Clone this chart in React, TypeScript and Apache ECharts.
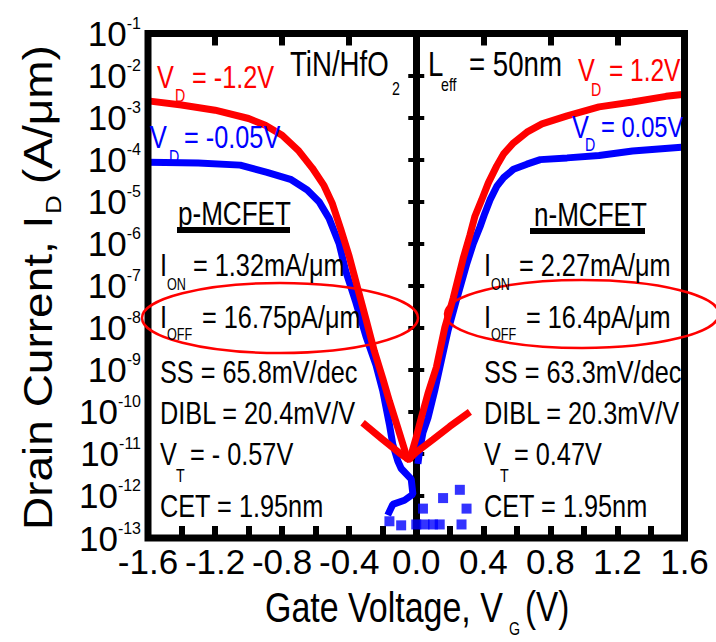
import React, { useEffect, useRef } from "react";
import * as echarts from "echarts";

// ---- data ----
const xTickMin = -1.6;
const xTickMax = 1.6;
const yMin = 1e-13;
const yMax = 1e-1;

// p-MCFET, VD = -1.2 V (red)
const pRedVg = [-1.6, -1.4, -1.2, -1.0, -0.9, -0.8, -0.7, -0.62, -0.55, -0.5, -0.45, -0.4, -0.35, -0.3, -0.25, -0.2, -0.16, -0.11, -0.05, 0.0, 0.1, 0.2, 0.32];
const pRedId = [2.5e-3, 2.0e-3, 1.5e-3, 9.5e-4, 6.6e-4, 3.8e-4, 1.6e-4, 6.3e-5, 2.4e-5, 8.9e-6, 2.2e-6, 5.0e-7, 8.9e-8, 1.6e-8, 2.8e-9, 6.3e-10, 1.8e-10, 4.2e-11, 7.1e-12, 1.1e-11, 2.2e-11, 4.5e-11, 1.0e-10];

// p-MCFET, VD = -0.05 V (blue)
const pBlueVg = [-1.6, -1.3, -1.05, -0.89, -0.75, -0.65, -0.58, -0.52, -0.46, -0.42, -0.36, -0.3, -0.24, -0.2, -0.16, -0.14, -0.11, -0.09, -0.03, -0.02, -0.07, -0.14, -0.17];
const pBlueId = [8.7e-5, 8.3e-5, 7.4e-5, 5.0e-5, 3.4e-5, 1.9e-5, 1.0e-5, 4.0e-6, 1.0e-6, 2.2e-7, 4.0e-8, 6.3e-9, 1.3e-9, 3.2e-10, 5.0e-11, 1.7e-11, 6.8e-12, 4.5e-12, 2.5e-12, 1.1e-12, 7.9e-13, 6.3e-13, 3.5e-13];

// n-MCFET, VD = 1.2 V (red)
const nRedVg = [-0.32, -0.2, -0.1, -0.04, 0.0, 0.03, 0.07, 0.12, 0.17, 0.22, 0.28, 0.32, 0.35, 0.39, 0.43, 0.48, 0.52, 0.58, 0.66, 0.75, 0.9, 1.09, 1.29, 1.49, 1.6];
const nRedId = [5.5e-11, 2.2e-11, 1.05e-11, 7.1e-12, 2.5e-11, 7.2e-11, 2.75e-10, 1.15e-9, 1.0e-8, 5.0e-8, 4.5e-7, 1.6e-6, 4.5e-6, 1.1e-5, 2.8e-5, 7.1e-5, 1.35e-4, 2.5e-4, 4.5e-4, 7.1e-4, 1.1e-3, 1.8e-3, 2.35e-3, 3.2e-3, 3.6e-3];

// n-MCFET, VD = 0.05 V (blue)
const nBlueVg = [0.01, 0.02, 0.04, 0.07, 0.11, 0.15, 0.19, 0.24, 0.3, 0.34, 0.38, 0.41, 0.44, 0.48, 0.52, 0.58, 0.66, 0.74, 0.9, 1.09, 1.29, 1.6];
const nBlueId = [5.8e-12, 1.2e-11, 3.2e-11, 7.2e-11, 3.2e-10, 1.7e-9, 8.7e-9, 4.6e-8, 3.2e-7, 1.0e-6, 2.5e-6, 5.4e-6, 1.1e-5, 2.3e-5, 3.7e-5, 5.9e-5, 7.8e-5, 1.0e-4, 1.1e-4, 1.26e-4, 1.6e-4, 2.0e-4];

// noise-floor points of the low-VD curves (blue squares)
const noiseVg = [-0.16, -0.09, 0.04, 0.0, 0.05, 0.1, 0.14, 0.16, 0.26, 0.3, 0.27];
const noiseId = [2.5e-13, 2.0e-13, 5.0e-13, 2.1e-13, 2.1e-13, 2.1e-13, 2.1e-13, 8.9e-13, 1.4e-12, 5.0e-13, 2.1e-13];

const pParams = ["= 1.32mA/μm", "= 16.75pA/μm", "SS = 65.8mV/dec", "DIBL = 20.4mV/V", "= - 0.57V", "CET = 1.95nm"];
const nParams = ["= 2.27mA/μm", "= 16.4pA/μm", "SS = 63.3mV/dec", "DIBL = 20.3mV/V", "= 0.47V", "CET = 1.95nm"];

const FR = '"Liberation Sans", Arial, sans-serif';
const RED = "#ff0000";
const BLUE = "#0000ff";
const SQ = 0.79; // horizontal squeeze of the reference's narrow lettering

const zip = (xs: number[], ys: number[]) => xs.map((x, i) => [x, ys[i]]);

function txt(text: string, x: number, y: number, size: number, color = "#000") {
  return {
    type: "text",
    x,
    y,
    z: 50,
    scaleX: SQ,
    style: { text, fill: color, fontSize: size, fontFamily: FR, align: "left", verticalAlign: "middle" },
  };
}

export default function App() {
  const ref = useRef<HTMLDivElement>(null);
  useEffect(() => {
    if (!ref.current) return;
    const chart = echarts.init(ref.current, null, { renderer: "svg" });

    const graphic: any[] = [
      // top annotations
      txt("V", 157, 77, 32, RED),
      txt("D", 175, 95, 18, RED),
      txt("= -1.2V", 192, 77, 32, RED),
      txt("V", 150, 137, 32, BLUE),
      txt("D", 169, 156, 18, BLUE),
      txt("= -0.05V", 184, 137, 32, BLUE),
      txt("TiN/HfO", 290, 64, 35),
      txt("2", 392, 88, 18),
      txt("L", 428, 64, 35),
      txt("eff", 441, 84, 18),
      txt("= 50nm", 469, 64, 35),
      txt("V", 578, 70, 32, RED),
      txt("D", 591, 89, 18, RED),
      txt("= 1.2V", 609, 70, 31, RED),
      txt("V", 572, 127, 32, BLUE),
      txt("D", 585, 144, 18, BLUE),
      txt("= 0.05V", 601, 127, 30, BLUE),
      // device headers
      txt("p-MCFET", 178, 213, 33),
      { type: "rect", z: 50, shape: { x: 177, y: 227, width: 113, height: 6 }, style: { fill: "#000" } },
      txt("n-MCFET", 534, 214, 33),
      { type: "rect", z: 50, shape: { x: 530, y: 228, width: 115, height: 6 }, style: { fill: "#000" } },
      // ellipses
      { type: "ellipse", z: 50, shape: { cx: 280, cy: 318, rx: 138, ry: 35 }, style: { fill: "none", stroke: RED, lineWidth: 2.5 } },
      { type: "ellipse", z: 50, shape: { cx: 582, cy: 314, rx: 137, ry: 34 }, style: { fill: "none", stroke: RED, lineWidth: 2.5 } },
    ];

    const rowY = [265, 317, 372, 413, 454, 506];
    const addParams = (x0: number, vals: string[], onX: number, offX: number, vtX: number) => {
      graphic.push(txt("I", x0, rowY[0], 32), txt("ON", x0 + 7, 284, 16), txt(vals[0], onX, rowY[0], 32));
      graphic.push(txt("I", x0, rowY[1], 32), txt("OFF", x0 + 7, 334, 16), txt(vals[1], offX, rowY[1], 32));
      graphic.push(txt(vals[2], x0, rowY[2], 32));
      graphic.push(txt(vals[3], x0, rowY[3], 32));
      graphic.push(txt("V", x0, rowY[4], 32), txt("T", x0 + 16, 475, 18), txt(vals[4], vtX, rowY[4], 32));
      graphic.push(txt(vals[5], x0, rowY[5], 32));
    };
    addParams(160, pParams, 193, 202, 190);
    addParams(484, nParams, 519, 526, 514);

    // axis titles
    graphic.push(
      txt("Gate Voltage, V", 265, 607, 43),
      txt("G", 509, 628, 18),
      txt("(V)", 525, 607, 42)
    );
    graphic.push({
      type: "group",
      x: 38,
      y: 530,
      rotation: Math.PI / 2,
      scaleY: 0.88,
      z: 50,
      children: [
        { type: "text", x: 0, y: 0, style: { text: "Drain Current, I", fill: "#000", fontSize: 46, fontFamily: FR, align: "left", verticalAlign: "middle" } },
        { type: "text", x: 316, y: 17, style: { text: "D", fill: "#000", fontSize: 26, fontFamily: FR, align: "left", verticalAlign: "middle" } },
        { type: "text", x: 346, y: 0, style: { text: "(A/μm)", fill: "#000", fontSize: 46, fontFamily: FR, align: "left", verticalAlign: "middle" } },
      ],
    });

    const tickStyle = { color: "#000", width: 6 };
    const option: any = {
      animation: false,
      backgroundColor: "#fff",
      grid: {
        show: true,
        left: 148,
        right: 31.5,
        top: 33.5,
        bottom: 104,
        borderColor: "#000",
        borderWidth: 7,
        backgroundColor: "transparent",
        z: 10,
      },
      xAxis: [
        {
          type: "value",
          position: "bottom",
          min: xTickMin,
          max: xTickMax,
          interval: 0.4,
          axisLine: { show: false },
          axisTick: { show: true, inside: true, length: 12, lineStyle: tickStyle },
          minorTick: { show: true, splitNumber: 2, length: 12, lineStyle: tickStyle },
          splitLine: { show: false },
          axisLabel: {
            margin: 6,
            color: "#000",
            fontSize: 35,
            fontFamily: FR,
            formatter: (v: number) => v.toFixed(1),
          },
        },
        {
          type: "value",
          position: "top",
          min: xTickMin,
          max: xTickMax,
          interval: 0.4,
          axisLine: { show: false },
          axisTick: { show: true, inside: true, length: 12, lineStyle: tickStyle },
          splitLine: { show: false },
          axisLabel: { show: false },
        },
      ],
      yAxis: [
        {
          type: "log",
          logBase: 10,
          position: "left",
          min: yMin,
          max: yMax,
          interval: 1,
          axisLine: { show: false },
          axisTick: { show: true, inside: true, length: 8, lineStyle: { color: "#000", width: 4 } },
          splitLine: { show: false },
          axisLabel: {
            margin: 7,
            formatter: (v: number) => `{b|10}{s|${Math.round(Math.log10(v))}}`,
            rich: {
              b: { fontSize: 35, lineHeight: 36, fontFamily: FR, color: "#000" },
              s: { fontSize: 16, lineHeight: 16, fontFamily: FR, color: "#000", verticalAlign: "top" },
            },
          },
        },
        {
          type: "log",
          logBase: 10,
          position: "right",
          min: yMin,
          max: yMax,
          interval: 1,
          axisLine: { show: false },
          axisTick: { show: true, inside: true, length: 8, lineStyle: { color: "#000", width: 4 } },
          splitLine: { show: false },
          axisLabel: { show: false },
        },
      ],
      series: [
        {
          name: "p VD=-0.05V",
          type: "line",
          data: zip(pBlueVg, pBlueId),
          showSymbol: false,
          lineStyle: { color: BLUE, width: 7 },
          z: 3,
          markLine: {
            silent: true,
            z: 1,
            symbol: ["none", "none"],
            label: { show: false },
            lineStyle: { color: "#000", width: 7, type: "solid" },
            data: [{ xAxis: 0 }],
          },
        },
        {
          name: "n VD=0.05V",
          type: "line",
          data: zip(nBlueVg, nBlueId),
          showSymbol: false,
          lineStyle: { color: BLUE, width: 7 },
          z: 3,
        },
        {
          name: "noise",
          type: "scatter",
          data: zip(noiseVg, noiseId),
          symbol: "rect",
          symbolSize: 10,
          itemStyle: { color: BLUE },
          z: 3,
        },
        {
          name: "p VD=-1.2V",
          type: "line",
          data: zip(pRedVg, pRedId),
          showSymbol: false,
          lineStyle: { color: RED, width: 7 },
          z: 4,
        },
        {
          name: "n VD=1.2V",
          type: "line",
          data: zip(nRedVg, nRedId),
          showSymbol: false,
          lineStyle: { color: RED, width: 7 },
          z: 4,
        },
      ],
      graphic,
    };
    chart.setOption(option);
    return () => chart.dispose();
  }, []);

  return <div ref={ref} style={{ position: "absolute", left: 0, top: 0, width: 716, height: 642 }} />;
}
